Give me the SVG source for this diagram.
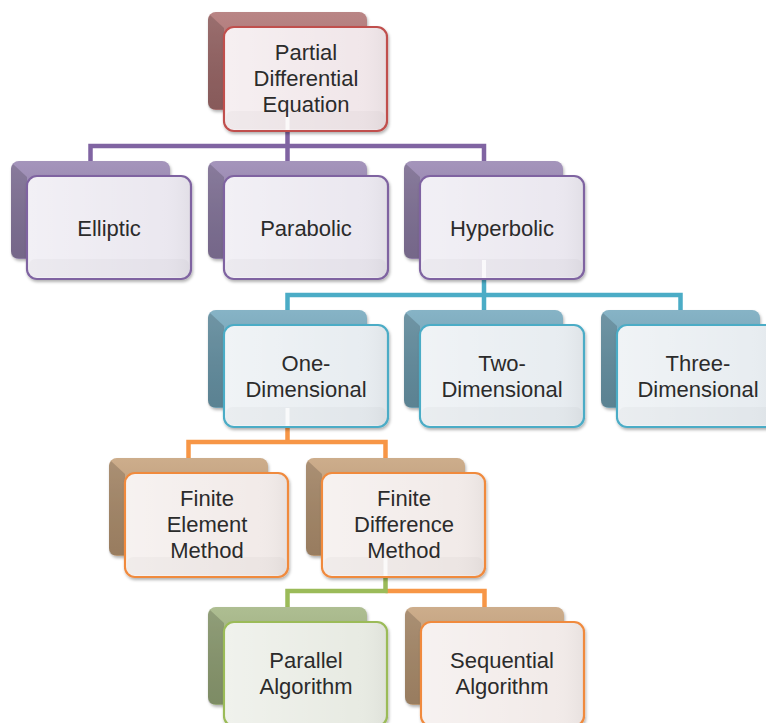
<svg xmlns="http://www.w3.org/2000/svg" width="766" height="723" viewBox="0 0 766 723">
<defs>
<filter id="sh" x="-10%" y="-10%" width="125%" height="130%">
<feDropShadow dx="1" dy="2" stdDeviation="1.6" flood-color="#000" flood-opacity="0.3"/>
</filter>
<linearGradient id="gloss" x1="0" y1="0" x2="1" y2="0">
<stop offset="0" stop-color="#fff" stop-opacity="0.35"/>
<stop offset="0.8" stop-color="#fff" stop-opacity="0"/>
<stop offset="1" stop-color="#000" stop-opacity="0.04"/>
</linearGradient>
<linearGradient id="backg" x1="0" y1="0" x2="0" y2="1">
<stop offset="0" stop-color="#fff" stop-opacity="0.12"/>
<stop offset="1" stop-color="#000" stop-opacity="0.08"/>
</linearGradient>
</defs>
<style>
.back{filter:url(#sh)}
.bev{fill:#000;fill-opacity:0.16}
.bgl{fill:url(#backg)}
.front{stroke-width:2.2;filter:url(#sh)}
.fgl{fill:url(#gloss)}
.band{fill:#000;fill-opacity:0.025}
.hl{fill:#fff;fill-opacity:0.75}
text{font-family:"Liberation Sans",Arial,sans-serif;font-size:22px;fill:#2b2b2b;text-anchor:middle}
.red .back{fill:#b07474}.red .front{fill:#f1e7ea;stroke:#c0504d}
.pur .back{fill:#9886b2}.pur .front{fill:#ebe8f0;stroke:#7f64a1}
.blu .back{fill:#76a9be}.blu .front{fill:#e8edf1;stroke:#4bacc6}
.ora .back{fill:#c6a27c}.ora .front{fill:#f2ebe9;stroke:#f08a3e}
.grn .back{fill:#a3b583}.grn .front{fill:#e8ebe3;stroke:#9bbb59}
.con{fill:none;stroke-width:4.5}
</style>
<g id="connectors">
<path class="con" stroke="#8064a2" d="M90.5,163 V146 H484 V163 M287.5,130 V163"/>
<path class="con" stroke="#4bacc6" d="M287.5,312 V295 H680.5 V312 M484,277 V312"/>
<path class="con" stroke="#f79646" d="M188.5,460 V442 H385.5 V460 M287.5,425 V442"/>
<path class="con" stroke="#f79646" d="M385.5,591 H484.5 V609"/>
<path class="con" stroke="#9bbb59" d="M385.5,575 V591 H287.5 V609"/>
</g>
<g id="n-pde" class="red" transform="translate(208,12)">
<rect class="back" width="159" height="98" rx="8"/><rect class="bgl" width="159" height="98" rx="8"/>
<path class="bev" d="M2,3 L16,16 L16,97 L5,97 Q0,97 0,92 L0,7 Z"/>
<rect class="front" x="16" y="15" width="163" height="104" rx="10"/>
<rect class="fgl" x="17" y="16" width="161" height="102" rx="9"/>
<rect class="band" x="18" y="99" width="159" height="18" rx="6"/>
<rect class="hl" x="77.5" y="100" width="4" height="18"/>
<text x="98" y="48">Partial</text><text x="98" y="74">Differential</text><text x="98" y="100">Equation</text>
</g>
<g id="n-elliptic" class="pur" transform="translate(11,161)">
<rect class="back" width="159" height="98" rx="8"/><rect class="bgl" width="159" height="98" rx="8"/>
<path class="bev" d="M2,3 L16,16 L16,97 L5,97 Q0,97 0,92 L0,7 Z"/>
<rect class="front" x="16" y="15" width="164" height="103" rx="10"/>
<rect class="fgl" x="17" y="16" width="162" height="101" rx="9"/>
<rect class="band" x="18" y="98" width="160" height="18" rx="6"/>
<text x="98" y="75">Elliptic</text>
</g>
<g id="n-parabolic" class="pur" transform="translate(208,161)">
<rect class="back" width="159" height="98" rx="8"/><rect class="bgl" width="159" height="98" rx="8"/>
<path class="bev" d="M2,3 L16,16 L16,97 L5,97 Q0,97 0,92 L0,7 Z"/>
<rect class="front" x="16" y="15" width="164" height="103" rx="10"/>
<rect class="fgl" x="17" y="16" width="162" height="101" rx="9"/>
<rect class="band" x="18" y="98" width="160" height="18" rx="6"/>
<text x="98" y="75">Parabolic</text>
</g>
<g id="n-hyperbolic" class="pur" transform="translate(404,161)">
<rect class="back" width="159" height="98" rx="8"/><rect class="bgl" width="159" height="98" rx="8"/>
<path class="bev" d="M2,3 L16,16 L16,97 L5,97 Q0,97 0,92 L0,7 Z"/>
<rect class="front" x="16" y="15" width="164" height="103" rx="10"/>
<rect class="fgl" x="17" y="16" width="162" height="101" rx="9"/>
<rect class="band" x="18" y="98" width="160" height="18" rx="6"/>
<rect class="hl" x="78" y="99" width="4" height="18"/>
<text x="98" y="75">Hyperbolic</text>
</g>
<g id="n-one" class="blu" transform="translate(208,310)">
<rect class="back" width="159" height="98" rx="8"/><rect class="bgl" width="159" height="98" rx="8"/>
<path class="bev" d="M2,3 L16,16 L16,97 L5,97 Q0,97 0,92 L0,7 Z"/>
<rect class="front" x="16" y="15" width="164" height="102" rx="10"/>
<rect class="fgl" x="17" y="16" width="162" height="100" rx="9"/>
<rect class="band" x="18" y="97" width="160" height="18" rx="6"/>
<rect class="hl" x="77.5" y="98" width="4" height="18"/>
<text x="98" y="61">One-</text><text x="98" y="87">Dimensional</text>
</g>
<g id="n-two" class="blu" transform="translate(404,310)">
<rect class="back" width="159" height="98" rx="8"/><rect class="bgl" width="159" height="98" rx="8"/>
<path class="bev" d="M2,3 L16,16 L16,97 L5,97 Q0,97 0,92 L0,7 Z"/>
<rect class="front" x="16" y="15" width="164" height="102" rx="10"/>
<rect class="fgl" x="17" y="16" width="162" height="100" rx="9"/>
<rect class="band" x="18" y="97" width="160" height="18" rx="6"/>
<text x="98" y="61">Two-</text><text x="98" y="87">Dimensional</text>
</g>
<g id="n-three" class="blu" transform="translate(601,310)">
<rect class="back" width="159" height="98" rx="8"/><rect class="bgl" width="159" height="98" rx="8"/>
<path class="bev" d="M2,3 L16,16 L16,97 L5,97 Q0,97 0,92 L0,7 Z"/>
<rect class="front" x="16" y="15" width="164" height="102" rx="10"/>
<rect class="fgl" x="17" y="16" width="162" height="100" rx="9"/>
<rect class="band" x="18" y="97" width="160" height="18" rx="6"/>
<text x="97" y="61">Three-</text><text x="97" y="87">Dimensional</text>
</g>
<g id="n-fem" class="ora" transform="translate(109,458)">
<rect class="back" width="159" height="98" rx="8"/><rect class="bgl" width="159" height="98" rx="8"/>
<path class="bev" d="M2,3 L16,16 L16,97 L5,97 Q0,97 0,92 L0,7 Z"/>
<rect class="front" x="16" y="15" width="163" height="104" rx="10"/>
<rect class="fgl" x="17" y="16" width="161" height="102" rx="9"/>
<rect class="band" x="18" y="99" width="159" height="18" rx="6"/>
<text x="98" y="48">Finite</text><text x="98" y="74">Element</text><text x="98" y="100">Method</text>
</g>
<g id="n-fdm" class="ora" transform="translate(306,458)">
<rect class="back" width="159" height="98" rx="8"/><rect class="bgl" width="159" height="98" rx="8"/>
<path class="bev" d="M2,3 L16,16 L16,97 L5,97 Q0,97 0,92 L0,7 Z"/>
<rect class="front" x="16" y="15" width="163" height="104" rx="10"/>
<rect class="fgl" x="17" y="16" width="161" height="102" rx="9"/>
<rect class="band" x="18" y="99" width="159" height="18" rx="6"/>
<rect class="hl" x="77.5" y="100" width="4" height="18"/>
<text x="98" y="48">Finite</text><text x="98" y="74">Difference</text><text x="98" y="100">Method</text>
</g>
<g id="n-parallel" class="grn" transform="translate(208,607)">
<rect class="back" width="159" height="98" rx="8"/><rect class="bgl" width="159" height="98" rx="8"/>
<path class="bev" d="M2,3 L16,16 L16,97 L5,97 Q0,97 0,92 L0,7 Z"/>
<rect class="front" x="16" y="15" width="163" height="104" rx="10"/>
<rect class="fgl" x="17" y="16" width="161" height="102" rx="9"/>
<text x="98" y="61">Parallel</text><text x="98" y="87">Algorithm</text>
</g>
<g id="n-sequential" class="ora" transform="translate(405,607)">
<rect class="back" width="159" height="98" rx="8"/><rect class="bgl" width="159" height="98" rx="8"/>
<path class="bev" d="M2,3 L16,16 L16,97 L5,97 Q0,97 0,92 L0,7 Z"/>
<rect class="front" x="16" y="15" width="163" height="104" rx="10"/>
<rect class="fgl" x="17" y="16" width="161" height="102" rx="9"/>
<text x="97" y="61">Sequential</text><text x="97" y="87">Algorithm</text>
</g>
</svg>
